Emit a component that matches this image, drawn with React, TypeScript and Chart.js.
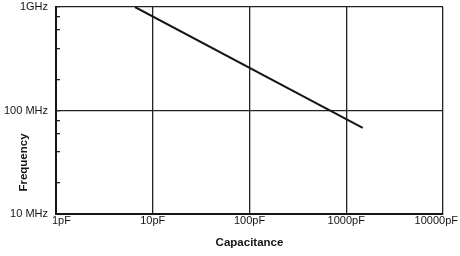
import React, { useEffect, useRef } from "react";
import { Chart, registerables } from "chart.js";

Chart.register(...registerables);

// ---- data ----
const capacitancePF = [6.55, 1480];
const frequencyMHz = [1000, 68];

const xTickValues = [1, 10, 100, 1000, 10000];
const xTickLabels = ["1pF", "10pF", "100pF", "1000pF", "10000pF"];

const yMajorValues = [10, 100, 1000];
const yTickLabels = ["10 MHz", "100 MHz", "1GHz"];
const yMinorValues = [20, 40, 60, 80, 200, 400, 600, 800];

const xTitle = "Capacitance";
const yTitle = "Frequency";

const FONT = '"Liberation Sans", Arial, Helvetica, sans-serif';
const INK = "#151515";

const annotate = {
  id: "annotate",
  afterDraw(chart: any) {
    const { ctx, chartArea, scales } = chart;
    ctx.save();
    ctx.fillStyle = INK;
    ctx.font = `11px ${FONT}`;
    ctx.textBaseline = "middle";
    xTickValues.forEach((v, i) => {
      const px = scales.x.getPixelForValue(v);
      const last = i === xTickValues.length - 1;
      ctx.textAlign = i === 0 ? "left" : last ? "right" : "center";
      const dx = i === 0 ? -4 : last ? 15 : 0;
      ctx.fillText(xTickLabels[i], px + dx, chartArea.bottom + 7);
    });
    ctx.font = `bold 11.5px ${FONT}`;
    ctx.translate(24, (chartArea.top + chartArea.bottom) / 2 + 52);
    ctx.rotate(-Math.PI / 2);
    ctx.textAlign = "center";
    ctx.fillText(yTitle, 0, 0);
    ctx.restore();
  },
};

export default function App() {
  const ref = useRef<HTMLCanvasElement>(null);

  useEffect(() => {
    if (!ref.current) return;
    const chart = new Chart(ref.current, {
      type: "line",
      data: {
        datasets: [
          {
            data: capacitancePF.map((c, i) => ({ x: c, y: frequencyMHz[i] })),
            borderColor: INK,
            borderWidth: 2,
            pointRadius: 0,
            fill: false,
            tension: 0,
          },
        ],
      },
      options: {
        responsive: false,
        animation: false,
        devicePixelRatio: 1,
        layout: { padding: { left: 0, top: 7, right: 17, bottom: 0 } },
        plugins: { legend: { display: false }, tooltip: { enabled: false } },
        scales: {
          x: {
            type: "logarithmic",
            min: 1,
            max: 10000,
            afterBuildTicks: (s: any) => {
              s.ticks = xTickValues.map((v) => ({ value: v }));
            },
            afterFit: (s: any) => {
              s.height = 42;
              s.paddingLeft = 0;
              s.paddingRight = 0;
            },
            ticks: { display: false },
            grid: { color: "#222", lineWidth: 1.3, drawTicks: false },
            border: { display: true, color: INK, width: 2 },
            title: {
              display: true,
              text: xTitle,
              color: INK,
              font: { family: FONT, size: 11.5, weight: "bold" },
              padding: { top: 0, bottom: 6 },
            },
          },
          y: {
            type: "logarithmic",
            min: 10,
            max: 1000,
            afterBuildTicks: (s: any) => {
              s.ticks = [...yMajorValues, ...yMinorValues]
                .sort((a, b) => a - b)
                .map((v) => ({ value: v }));
            },
            afterFit: (s: any) => {
              s.width = 56;
              s.paddingTop = 0;
              s.paddingBottom = 0;
            },
            ticks: {
              autoSkip: false,
              padding: 12,
              color: INK,
              font: { family: FONT, size: 11 },
              callback: (value: any) => {
                const i = yMajorValues.indexOf(Number(value));
                return i >= 0 ? yTickLabels[i] : "";
              },
            },
            grid: {
              color: (c: any) =>
                yMajorValues.includes(c.tick?.value) ? "#222" : "rgba(0,0,0,0)",
              lineWidth: 1.3,
              drawTicks: true,
              tickLength: -4,
              tickColor: "#222",
              tickWidth: 1.3,
            },
            border: { display: true, color: INK, width: 2 },
          },
        },
      },
      plugins: [annotate],
    } as any);
    return () => chart.destroy();
  }, []);

  return (
    <div style={{ position: "fixed", left: 0, top: 0, width: 460, height: 256, background: "#fff" }}>
      <canvas ref={ref} width={460} height={256} />
    </div>
  );
}
